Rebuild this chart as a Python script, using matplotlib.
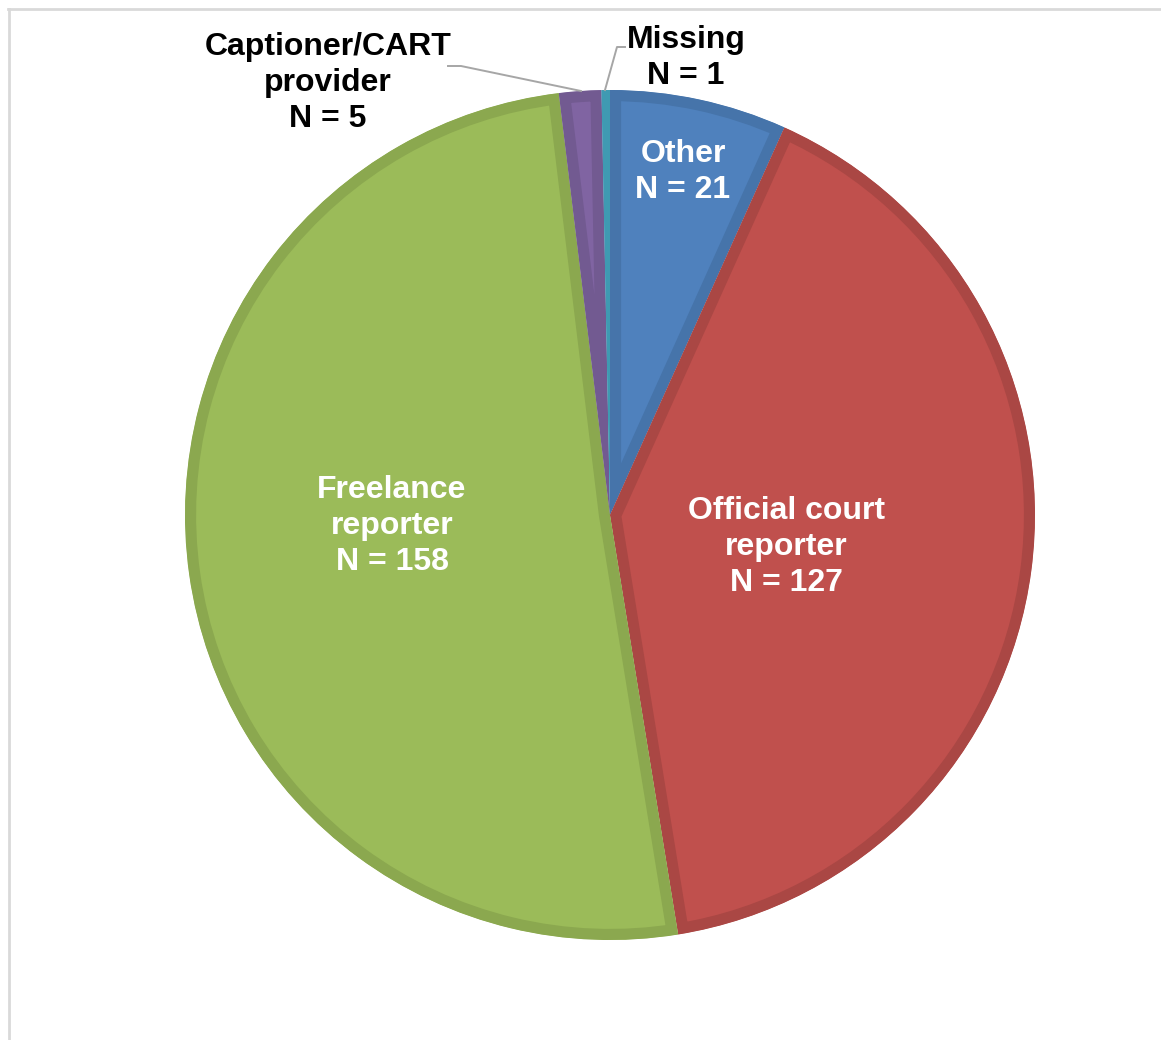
import matplotlib.pyplot as plt
from matplotlib.lines import Line2D

plt.rcParams['font.family'] = ['Liberation Sans', 'DejaVu Sans']

# respondent roles, clockwise from 12 o'clock
roles = ['Other', 'Official court\nreporter', 'Freelance\nreporter', 'Captioner/CART\nprovider', 'Missing']
counts = [21, 127, 158, 5, 1]
fills = ['#4F81BD', '#C0504D', '#9BBB59', '#8064A2', '#4BACC6']
edges = ['#4674AA', '#AA4744', '#8BA84F', '#725A91', '#3F9AB2']

W, H = 1161, 1040
fig = plt.figure(figsize=(W / 100, H / 100), dpi=100)
ax = fig.add_axes([0, 0, 1, 1])

cx, cy, r = 610, H - 515, 425
wedges, _ = ax.pie(counts, colors=fills, startangle=90, counterclock=False,
                   center=(cx, cy), radius=r, frame=True,
                   wedgeprops=dict(linewidth=16, joinstyle='miter'))
ax.set_xlim(0, W)
ax.set_ylim(0, H)
ax.set_aspect('equal')
ax.axis('off')
# keep each slice's thick outline inside its own slice
for w, ec in zip(wedges, edges):
    w.set_edgecolor(ec)
    w.set_clip_path(w)
    w.set_clip_on(True)

txt = dict(fontsize=23, fontweight='bold', ha='center', va='center', linespacing=1.25)

# labels inside the big slices
inner = {0: (683, 172), 1: (786, 547), 2: (392, 526)}
for i, (x, y) in inner.items():
    ax.text(x, H - y, f"{roles[i]}\nN = {counts[i]}", color='white', **txt)

# small slices get labels outside with leader lines
ax.text(328, H - 83, f"{roles[3]}\nN = {counts[3]}", color='black', **txt)
ax.text(686, H - 58, f"{roles[4]}\nN = {counts[4]}", color='black', **txt)
ax.plot([448, 461, 581], [H - 66, H - 66, H - 91], color='#A6A6A6', lw=1.4)
ax.plot([625, 617, 605], [H - 47, H - 47, H - 90], color='#A6A6A6', lw=1.4)

# chart area border
fig.add_artist(Line2D([8 / W, 1], [1 - 9 / H, 1 - 9 / H], color='#D9D9D9', lw=2,
                      transform=fig.transFigure))
fig.add_artist(Line2D([9 / W, 9 / W], [0, 1 - 9 / H], color='#D9D9D9', lw=2,
                      transform=fig.transFigure))

fig.savefig('out.png', dpi=100)
